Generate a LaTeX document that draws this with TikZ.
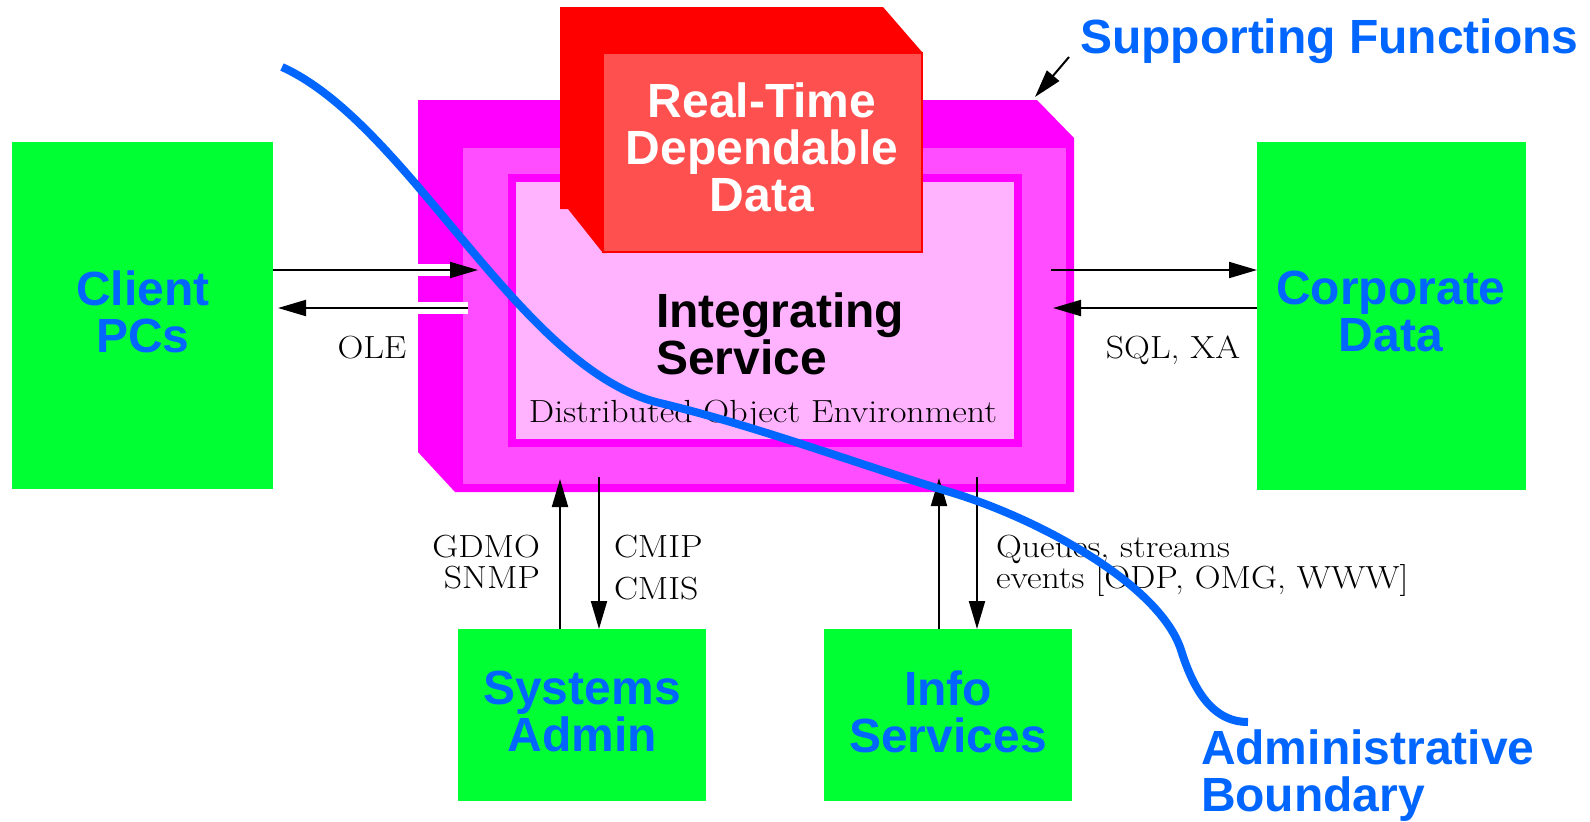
\documentclass[tikz,border=0pt]{standalone}
\usepackage{fontspec}
\usepackage{graphicx}
\newfontfamily\hv{Liberation Sans}
\usetikzlibrary{arrows.meta}

\definecolor{boxgreen}{RGB}{0,255,51}
\definecolor{lblblue}{RGB}{0,102,255}
\definecolor{mag}{RGB}{255,0,255}
\definecolor{magface}{RGB}{255,77,255}
\definecolor{pinkfill}{RGB}{255,179,255}
\definecolor{redback}{RGB}{255,0,0}
\definecolor{redface}{RGB}{255,80,80}

% slightly widened serif for the protocol labels
\newcommand{\widetxt}[1]{\scalebox{1.12}[1]{#1}}

\begin{document}
\begin{tikzpicture}[x=0.5pt,y=-0.5pt,
  every node/.style={outer sep=0pt},
  greenbox/.style={fill=boxgreen, draw=none, inner sep=0pt},
  biglabel/.style={font=\hv\bfseries\fontsize{24}{23.5}\selectfont, inner sep=0pt, align=center},
  smalllabel/.style={font=\fontsize{16}{15.5}\selectfont, inner sep=0pt},
  conn/.style={line width=1pt, -{Triangle[length=14pt,width=8pt]}},
  halo/.style={white, line width=6pt},
  boundary/.style={lblblue, line width=4pt}
]
\useasboundingbox (0,0) rectangle (1590,821);

% outer green boxes
\node[greenbox, minimum width=130.5pt, minimum height=173.5pt] (client) at (142.5,315.5) {};
\node[greenbox, minimum width=134.5pt, minimum height=174pt] (corp) at (1391.5,316) {};
\node[greenbox, minimum width=124pt, minimum height=86pt] (sa) at (582,715) {};
\node[greenbox, minimum width=124pt, minimum height=86pt] (info) at (948,715) {};

% supporting functions block (3-D box)
\fill[mag] (418,100) -- (1037,100) -- (1074,138) -- (1074,492) -- (455,492) -- (418,452) -- cycle;
\node[fill=magface, inner sep=0pt, minimum width=301.5pt, minimum height=168pt] (sf) at (764.5,316) {};
\node[fill=pinkfill, draw=mag, line width=4pt, inner sep=0pt, minimum width=253pt, minimum height=132.5pt] (svc) at (765,310.5) {};

% real-time dependable data block (3-D box)
\fill[redback] (560,7) -- (883,7) -- (922,52) -- (922,252) -- (603,253) -- (568,209) -- (560,209) -- cycle;
\node[fill=redface, draw=redback, line width=1pt, inner sep=0pt, minimum width=159.5pt, minimum height=99.5pt] (rtd) at (762.5,152.5) {};

% box labels
\node[biglabel, text=lblblue, anchor=north] (clientT) at (143,270.6) {Client\\PCs};
\node[biglabel, text=lblblue, anchor=north] (corpT) at (1391,270.6) {Corporate\\Data};
\node[biglabel, text=lblblue, anchor=north] (saT) at (582,670.6) {Systems\\Admin};
\node[biglabel, text=lblblue, anchor=north] (infoT) at (948,670.6) {Info\\Services};
\node[biglabel, text=white, anchor=north] (rtdT) at (762,82.6) {Real-Time\\Dependable\\Data};
\node[biglabel, text=black, align=left, anchor=north west] (svcT) at (656,292.6) {Integrating\\Service};
\node[smalllabel, anchor=base] (doe) at (763,422) {\widetxt{Distributed Object Environment}};

% side labels
\node[biglabel, text=lblblue, anchor=base west] (sfL) at (1080,53) {Supporting Functions};
\node[biglabel, text=lblblue, align=left, anchor=north west] (abL) at (1201,729.6) {Administrative\\Boundary};

% protocol labels
\node[smalllabel, anchor=base] (ole) at (372,358) {\widetxt{OLE}};
\node[smalllabel, anchor=base] (sql) at (1173,358) {\widetxt{SQL, XA}};
\node[smalllabel, align=right, anchor=north east] (gdmo) at (540,535) {\widetxt{GDMO}\\\widetxt{SNMP}};
\node[smalllabel, align=left, anchor=north west, font=\fontsize{16}{21}\selectfont] (cmip) at (614,535) {\widetxt{CMIP}\\\widetxt{CMIS}};
\node[smalllabel, align=left, anchor=north west] (queues) at (996,535) {\widetxt{Queues, streams}\\\widetxt{events [ODP, OMG, WWW]}};

% helper positions for connectors
\coordinate (ya) at (0,270);
\coordinate (yb) at (0,308);
\coordinate (xa1) at (560,0);
\coordinate (xa2) at (599,0);
\coordinate (xb1) at (939,0);
\coordinate (xb2) at (977,0);
\coordinate (sftail) at (1069,57);
\coordinate (sfcorner) at (1035,97);

% client <-> service (OLE)
\draw[halo] (client.east |- ya) -- ([xshift=-4pt]sf.west |- ya);
\draw[conn] (client.east |- ya) -- ([xshift=7.5pt]sf.west |- ya);
\draw[halo] ([xshift=2.5pt]sf.west |- yb) -- ([xshift=20pt]client.east |- yb);
\draw[conn] ([xshift=2.5pt]sf.west |- yb) -- ([xshift=2.5pt]client.east |- yb);

% service <-> corporate data (SQL, XA)
\draw[conn] ([xshift=-7.5pt]sf.east |- ya) -- (corp.west |- ya);
\draw[conn] (corp.west |- yb) -- ([xshift=-6.5pt]sf.east |- yb);

% service <-> systems admin
\draw[conn] (xa1 |- sa.north) -- ([yshift=2.5pt]xa1 |- sf.south);
\draw[conn] ([yshift=3.5pt]xa2 |- sf.south) -- (xa2 |- sa.north);

% service <-> info services
\draw[conn] (xb1 |- info.north) -- ([yshift=3pt]xb1 |- sf.south);
\draw[conn] ([yshift=3.5pt]xb2 |- sf.south) -- (xb2 |- info.north);

% pointer to the supporting functions block
\draw[conn] (sftail) -- (sfcorner);

% administrative boundary
\draw[boundary] (282,67) .. controls (410,125) and (520,370) .. (660,403)
  .. controls (760,427) and (860,465) .. (950,492)
  .. controls (1040,519) and (1160,585) .. (1181,650)
  .. controls (1192,685) and (1210,722) .. (1248,722);
\end{tikzpicture}
\end{document}
